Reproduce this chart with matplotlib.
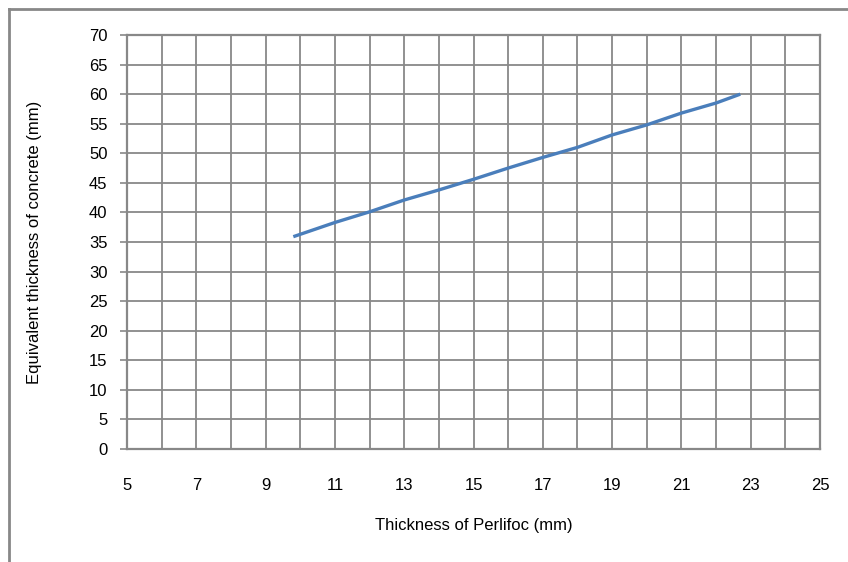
import matplotlib
matplotlib.use('Agg')
import matplotlib.pyplot as plt
from matplotlib.lines import Line2D

# data
thickness_perlifoc = [9.8, 11, 12, 13, 14, 15, 16, 17, 18, 19, 20, 21, 22, 22.7]
equiv_concrete = [35.9, 38.3, 40.1, 42.1, 43.8, 45.6, 47.5, 49.3, 51.0, 53.1, 54.8, 56.8, 58.5, 60.0]
x_ticks = [5, 7, 9, 11, 13, 15, 17, 19, 21, 23, 25]
y_ticks = list(range(0, 75, 5))

plt.rcParams['font.family'] = ['Liberation Sans', 'DejaVu Sans']

W, H = 848, 562
fig = plt.figure(figsize=(W / 100, H / 100), dpi=100)
ax = fig.add_axes([127 / W, 1 - 449 / H, (820 - 127) / W, (449 - 35) / H])

grid_color = '#888888'
ax.set_xlim(5, 25)
ax.set_ylim(0, 70)
ax.set_xticks(x_ticks)
ax.set_xticks(range(5, 26), minor=True)
ax.set_yticks(y_ticks)
ax.grid(True, which='both', axis='x', color=grid_color, linewidth=1.3)
ax.grid(True, which='major', axis='y', color=grid_color, linewidth=1.3)
ax.set_axisbelow(True)

for side in ['left', 'bottom', 'top', 'right']:
    ax.spines[side].set_color(grid_color)
    ax.spines[side].set_linewidth(1.6)

ax.tick_params(axis='y', length=5, width=1.2, color=grid_color, pad=9, labelsize=12)
ax.tick_params(axis='x', which='both', length=0, pad=21, labelsize=12)

ax.plot(thickness_perlifoc, equiv_concrete, color='#4a7ebb', linewidth=2.4, solid_capstyle='butt')

ax.set_xlabel('Thickness of Perlifoc (mm)', fontsize=12, labelpad=18)
ax.set_ylabel('Equivalent thickness of concrete (mm)', fontsize=12, labelpad=34)

# outer chart frame (partly cropped in the reference)
fx, fy = 9 / W, 1 - 9 / H
fig.add_artist(Line2D([fx, 1], [fy, fy], color='#888888', linewidth=2, transform=fig.transFigure))
fig.add_artist(Line2D([fx, fx], [0, fy], color='#888888', linewidth=2, transform=fig.transFigure))

fig.savefig('out.png', dpi=100)
